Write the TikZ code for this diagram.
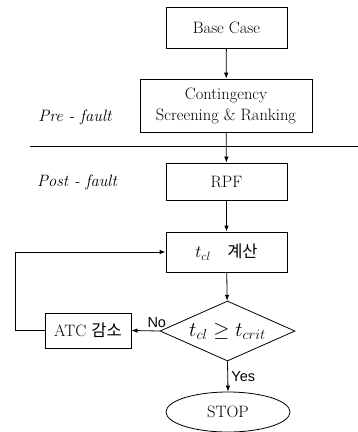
\documentclass[tikz,border=0pt]{standalone}
\usepackage{fontspec}
\newfontfamily\krfont{Noto Sans CJK KR}
\newfontfamily\arialfont{Liberation Sans}
\usepackage{tikz}
\usetikzlibrary{shapes.geometric,arrows.meta,positioning,calc}

\begin{document}
\begin{tikzpicture}[x=1pt, y=-1pt, line width=0.8pt, >={Latex[length=6pt,width=4.5pt]},
    box/.style={draw, rectangle, inner sep=0pt, minimum width=121pt, align=center, font=\fontsize{16.5}{21}\rmfamily},
    decision/.style={draw, diamond, aspect=2.25, inner sep=0pt, minimum width=135pt, minimum height=60pt, font=\fontsize{22}{24}\selectfont},
    terminal/.style={draw, ellipse, inner sep=0pt, minimum width=124pt, minimum height=40pt, font=\fontsize{16.5}{21}\rmfamily},
    phase/.style={font=\fontsize{16.5}{21}\rmfamily\itshape},
    answer/.style={font=\fontsize{14.5}{16}\arialfont}]
    \useasboundingbox (0,0) rectangle (358,432);

    % Phase labels and separator
    \node[phase] (pre) at (75,117) {Pre - fault};
    \node[phase] (post) at (77,182) {Post - fault};
    \draw (30,146) -- (358,146);

    % Flow
    \node[box, minimum height=41pt] (base) at (226.5,27.5) {Base Case};
    \node[box, minimum width=172pt, minimum height=53pt] (cont) at (226,105.5) {Contingency\\Screening \& Ranking};
    \node[box, minimum height=37pt] (rpf) at (226.5,181.5) {RPF};
    \node[box, minimum height=40pt] (tcl) at (226.5,252) {$t_{cl}$\quad{\krfont 계산}};
    \node[decision] (check) at (227.5,331) {$t_{cl}\geq t_{crit}$};
    \node[box, minimum width=86pt, minimum height=35pt] (atc) at (88,330.5) {ATC {\krfont 감소}};
    \node[terminal] (stop) at (228,412) {STOP};

    % Connectors
    \draw[->] (base) -- (cont);
    \draw[->] (cont) -- (rpf);
    \draw[->] (rpf) -- (tcl);
    \draw[->] (tcl) -- (check);
    \draw[->] (check.west) -- (atc.east) node[answer, pos=0.1, above] {No};
    \draw[->] (atc.west) -- ++(-29,0) |- (tcl.west);
    \draw[->] (check.south) -- (stop.north) node[answer, midway, right] {Yes};
\end{tikzpicture}
\end{document}
